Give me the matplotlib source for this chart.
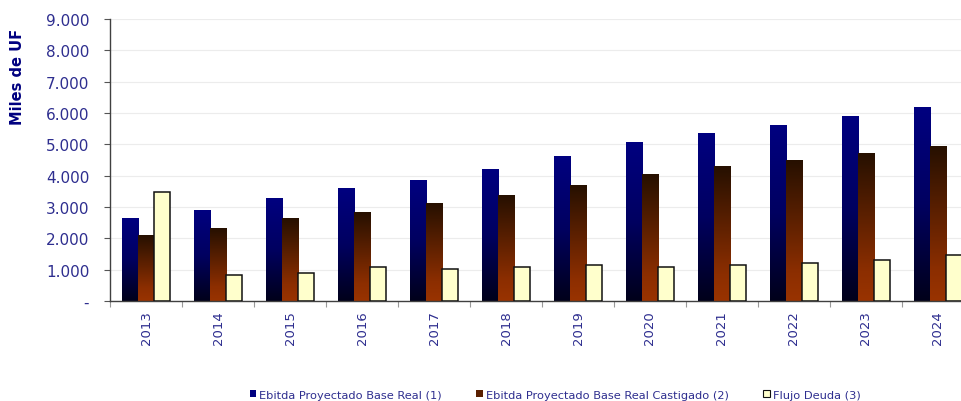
import matplotlib
matplotlib.use("Agg")
import matplotlib.pyplot as plt
import numpy as np
from matplotlib.colors import LinearSegmentedColormap
from matplotlib.patches import Patch
from matplotlib.ticker import FixedLocator, FuncFormatter

# data (miles de UF)
years = ["2013", "2014", "2015", "2016", "2017", "2018",
         "2019", "2020", "2021", "2022", "2023", "2024"]
ebitda = [2620, 2900, 3260, 3600, 3860, 4210, 4630, 5070, 5360, 5620, 5900, 6190]
castigado = [2080, 2330, 2620, 2840, 3100, 3380, 3700, 4050, 4280, 4500, 4720, 4950]
flujo = [3490, 830, 900, 1080, 1020, 1080, 1150, 1080, 1150, 1210, 1320, 1480]

labels = ["Ebitda Proyectado Base Real (1)",
          "Ebitda Proyectado Base Real Castigado (2)",
          "Flujo Deuda (3)"]

blue_cmap = LinearSegmentedColormap.from_list(
    "blue", [(0, "#00001a"), (0.5, "#000060"), (1, "#000080")])
brown_cmap = LinearSegmentedColormap.from_list(
    "brown", [(0, "#993300"), (0.2, "#8c2e00"), (1, "#261000")])

text_col = "#2e2e8f"

fig = plt.figure(figsize=(9.61, 4.02), dpi=100)
ax = fig.add_axes([0.1145, 0.249, 0.899, 0.701])

x = np.arange(len(years))
w = 0.225
grad = np.linspace(0, 1, 256).reshape(-1, 1)


def gradient_bars(xs, vals, cmap):
    bars = ax.bar(xs, vals, w, color="none", edgecolor="none", zorder=2)
    for b in bars:
        x0, y0 = b.get_x(), b.get_y()
        ax.imshow(grad, cmap=cmap, origin="lower", aspect="auto",
                  extent=[x0, x0 + b.get_width(), y0, y0 + b.get_height()],
                  zorder=2)


gradient_bars(x - w, ebitda, blue_cmap)
gradient_bars(x, castigado, brown_cmap)
ax.bar(x + w, flujo, w, color="#ffffcc", edgecolor="#111111", linewidth=1.1, zorder=3)

ax.set_xlim(-0.5, 11.5)
ax.set_ylim(0, 9000)

ax.set_yticks(np.arange(0, 9001, 1000))
ax.yaxis.set_major_formatter(FuncFormatter(
    lambda v, p: "-" if v == 0 else f"{int(v):,}".replace(",", ".")))
ax.tick_params(axis="y", labelsize=11, labelcolor=text_col, length=4,
               pad=11, color="#555555")
ax.yaxis.grid(True, color="#ececec", linewidth=0.8, zorder=0)
ax.set_axisbelow(True)

ax.xaxis.set_major_locator(FixedLocator(np.arange(-0.5, 12, 1)))
ax.xaxis.set_major_formatter(FuncFormatter(lambda v, p: ""))
ax.xaxis.set_minor_locator(FixedLocator(x))
ax.set_xticklabels(years, minor=True, rotation=90, fontsize=9.5, color=text_col)
ax.tick_params(axis="x", which="major", length=4, color="#999999")
ax.tick_params(axis="x", which="minor", length=0, pad=7)

for s in ["top", "right"]:
    ax.spines[s].set_visible(False)
for s in ["left", "bottom"]:
    ax.spines[s].set_color("#404040")
    ax.spines[s].set_linewidth(1)

fig.text(0.0187, 0.808, "Miles de UF", rotation=90, ha="center", va="center",
         fontsize=10.5, fontweight="bold", color="#000080")

handles = [Patch(facecolor="#000080", edgecolor="none"),
           Patch(facecolor="#5a2000", edgecolor="none"),
           Patch(facecolor="#ffffcc", edgecolor="#111111", linewidth=0.8)]
fig.legend(handles, labels, loc="center", bbox_to_anchor=(0.5775, 0.016),
           ncol=3, frameon=False, fontsize=8.2, labelcolor=text_col,
           handlelength=0.6, handleheight=0.6, handletextpad=0.25,
           columnspacing=3.0)

fig.savefig("out.png", dpi=100)
